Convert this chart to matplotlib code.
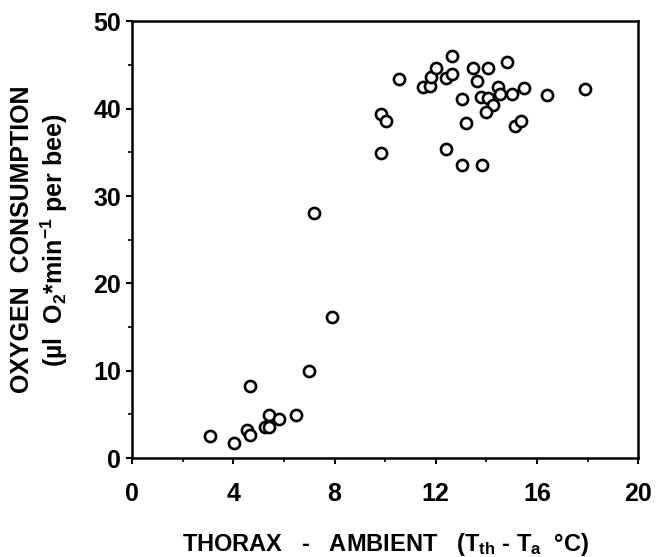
import matplotlib
matplotlib.use("Agg")
import matplotlib.pyplot as plt
from matplotlib.ticker import MultipleLocator

plt.rcParams['font.family'] = ['Liberation Sans', 'DejaVu Sans']
plt.rcParams['font.weight'] = 'bold'
plt.rcParams['mathtext.fontset'] = 'custom'
plt.rcParams['mathtext.rm'] = 'Liberation Sans:bold'
plt.rcParams['mathtext.bf'] = 'Liberation Sans:bold'
plt.rcParams['mathtext.default'] = 'bf'

# thorax - ambient temperature difference (deg C)
delta_t = [3.1, 4.03, 4.65, 4.56, 4.65, 5.25, 5.4, 5.42, 5.81, 6.46, 7.0, 7.9, 7.18,
           9.82, 10.05, 9.82, 10.53,
           11.49, 11.78, 11.82, 11.99, 12.41, 12.64, 12.64, 13.49, 14.06, 13.62,
           14.8, 13.04, 13.79, 14.06, 14.45, 14.52, 14.28, 13.99, 15.02, 15.5,
           13.2, 12.41, 13.04, 13.83, 15.15, 15.37, 16.38, 17.9]
# oxygen consumption (ul O2 / min per bee)
o2 = [2.5, 1.7, 8.2, 3.2, 2.6, 3.6, 4.9, 3.6, 4.5, 4.9, 10.0, 16.1, 28.1,
      39.4, 38.6, 34.9, 43.4,
      42.5, 42.6, 43.6, 44.6, 43.5, 44.0, 46.0, 44.7, 44.6, 43.2,
      45.3, 41.1, 41.3, 41.2, 42.5, 41.7, 40.4, 39.6, 41.7, 42.4,
      38.4, 35.4, 33.6, 33.6, 38.0, 38.6, 41.6, 42.3]

x_ticks = [0, 4, 8, 12, 16, 20]
y_ticks = [0, 10, 20, 30, 40, 50]

fig = plt.figure(figsize=(6.58, 5.57), dpi=100)
ax = fig.add_axes([0.2006, 0.1777, 0.7694, 0.784])

ax.plot(delta_t, o2, 'o', mfc='white', mec='black', ms=8, mew=1.9, ls='none')

ax.set_xlim(0, 20)
ax.set_ylim(0, 50)
ax.set_xticks(x_ticks)
ax.set_yticks(y_ticks)
ax.xaxis.set_minor_locator(MultipleLocator(2))
ax.yaxis.set_minor_locator(MultipleLocator(5))
ax.tick_params(which='major', direction='out', length=4, width=1.5, labelsize=18)
ax.tick_params(which='minor', direction='out', length=3, width=1.2)
ax.tick_params(axis='x', which='major', pad=13)
ax.tick_params(axis='y', which='major', pad=4)
for sp in ax.spines.values():
    sp.set_linewidth(1.8)

ax.set_xlabel(r"THORAX   -   AMBIENT   (T$_{th}$ - T$_{a}$  °C)", fontsize=17,
              fontweight='bold', va='center')
ax.xaxis.set_label_coords(0.5, -0.197)
ax.set_ylabel("OXYGEN  CONSUMPTION\n(µl  O$_2$*min$^{-1}$ per bee)", fontsize=18,
              fontweight='bold', va='center', linespacing=1.2)
ax.yaxis.set_label_coords(-0.182, 0.5)

fig.savefig("out.png", dpi=100)
